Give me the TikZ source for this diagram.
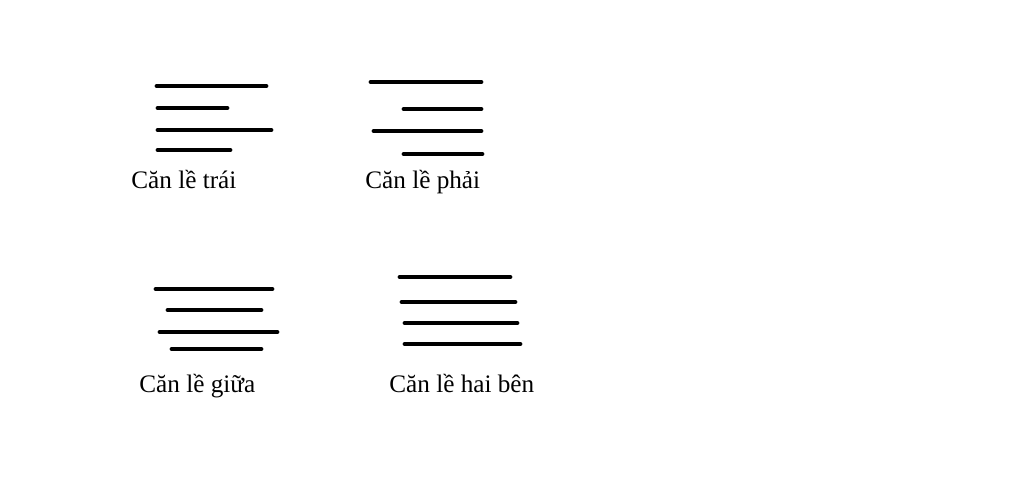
\documentclass[tikz,border=0pt]{standalone}
\usepackage{fontspec}
\setmainfont{Liberation Serif}
\usepackage{tikz}

\tikzset{bar/.style={line width=2.4pt, line cap=round},
  caption/.style={anchor=base west, inner sep=0pt, font=\fontsize{12.6}{15}\selectfont}}

\begin{document}
\begin{tikzpicture}[x=0.5pt,y=-0.5pt]
\useasboundingbox (0,0) rectangle (1024,490);
% Left aligned
\draw[bar] (157, 86)  -- (266, 86) ;
\draw[bar] (158, 108)  -- (227, 108) ;
\draw[bar] (158, 130)  -- (271, 130) ;
\draw[bar] (158, 150)  -- (230, 150) ;
\node[caption] (trai) at (131, 189) {Căn lề trái};
% Right aligned
\draw[bar] (371, 82)  -- (481, 82) ;
\draw[bar] (404, 109)  -- (481, 109) ;
\draw[bar] (374, 131)  -- (481, 131) ;
\draw[bar] (404, 154)  -- (482, 154) ;
\node[caption] (phai) at (365, 189) {Căn lề phải};
% Centred
\draw[bar] (156, 289)  -- (272, 289) ;
\draw[bar] (168, 310)  -- (261, 310) ;
\draw[bar] (160, 332)  -- (277, 332) ;
\draw[bar] (172, 349)  -- (261, 349) ;
\node[caption] (giua) at (139, 393) {Căn lề giữa};
% Justified
\draw[bar] (400, 277)  -- (510, 277) ;
\draw[bar] (402, 302)  -- (515, 302) ;
\draw[bar] (405, 323)  -- (517, 323) ;
\draw[bar] (405, 344)  -- (520, 344) ;
\node[caption] (haiben) at (389, 393) {Căn lề hai bên};
\end{tikzpicture}
\end{document}
